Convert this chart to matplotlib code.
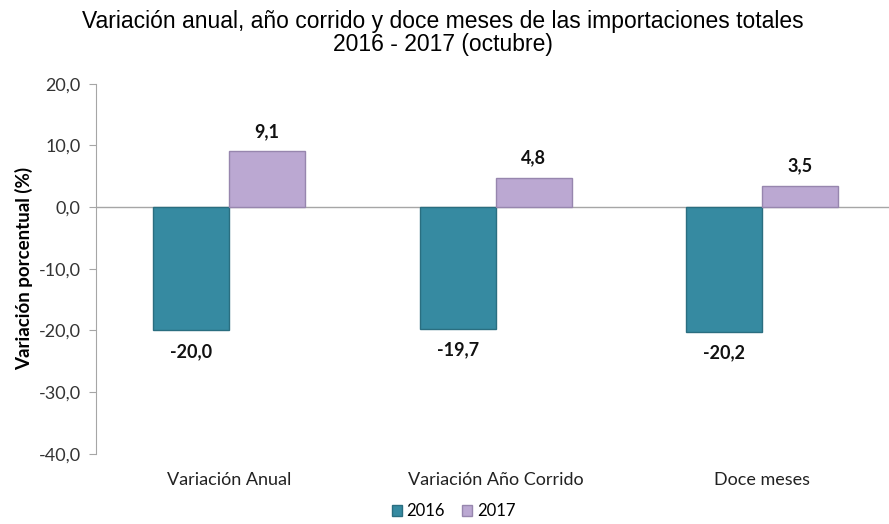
import numpy as np
import matplotlib.pyplot as plt

categorias = ["Variación Anual", "Variación Año Corrido", "Doce meses"]
v2016 = [-20.0, -19.7, -20.2]
v2017 = [9.1, 4.8, 3.5]
yticks = [-40, -30, -20, -10, 0, 10, 20]

def fmt(v):
    return ("%.1f" % v).replace(".", ",")

plt.rcParams['font.family'] = ['Lato', 'DejaVu Sans']

fig = plt.figure(figsize=(8.89, 5.24), dpi=100, facecolor='w')
ax = fig.add_axes([0.108, 0.134, 0.892, 0.706])

x = np.arange(len(categorias))
w = 0.285
b1 = ax.bar(x - w/2, v2016, w, color='#368AA1', edgecolor='#2A6E80', lw=1, label='2016')
b2 = ax.bar(x + w/2, v2017, w, color='#BBA8D2', edgecolor='#9786AE', lw=1, label='2017')

for xi, v in zip(x - w/2, v2016):
    ax.text(xi, v - 2.0, fmt(v), ha='center', va='top', fontsize=13, fontweight='bold', color='#111111')
for xi, v in zip(x + w/2, v2017):
    ax.text(xi, v + 1.8, fmt(v), ha='center', va='bottom', fontsize=13, fontweight='bold', color='#111111')

ax.axhline(0, color='#A6A6A6', lw=1, zorder=0)
ax.set_ylim(-40, 20)
ax.set_xlim(-0.5, 2.476)
ax.set_yticks(yticks)
ax.set_yticklabels([fmt(t) for t in yticks], fontsize=13, color='#333333')
ax.set_xticks(x)
ax.set_xticklabels(categorias, fontsize=13, color='#222222')
ax.tick_params(axis='x', length=0, pad=13)
ax.tick_params(axis='y', length=5, color='#A6A6A6', pad=6)
for s in ['top', 'right', 'bottom']:
    ax.spines[s].set_visible(False)
ax.spines['left'].set_color('#A6A6A6')
ax.set_ylabel("Variación porcentual (%)", fontsize=13.5, fontweight='bold', labelpad=4)

fig.suptitle("Variación anual, año corrido y doce meses de las importaciones totales\n2016 - 2017 (octubre)",
             fontsize=16.5, family='Liberation Sans', y=0.98, x=0.498, linespacing=1.0)

fig.legend(loc='lower center', bbox_to_anchor=(0.51, -0.02), ncol=2, frameon=False,
           fontsize=12, handlelength=0.6, handleheight=0.6, handletextpad=0.3, columnspacing=1.0)

fig.savefig('out.png', dpi=100)
